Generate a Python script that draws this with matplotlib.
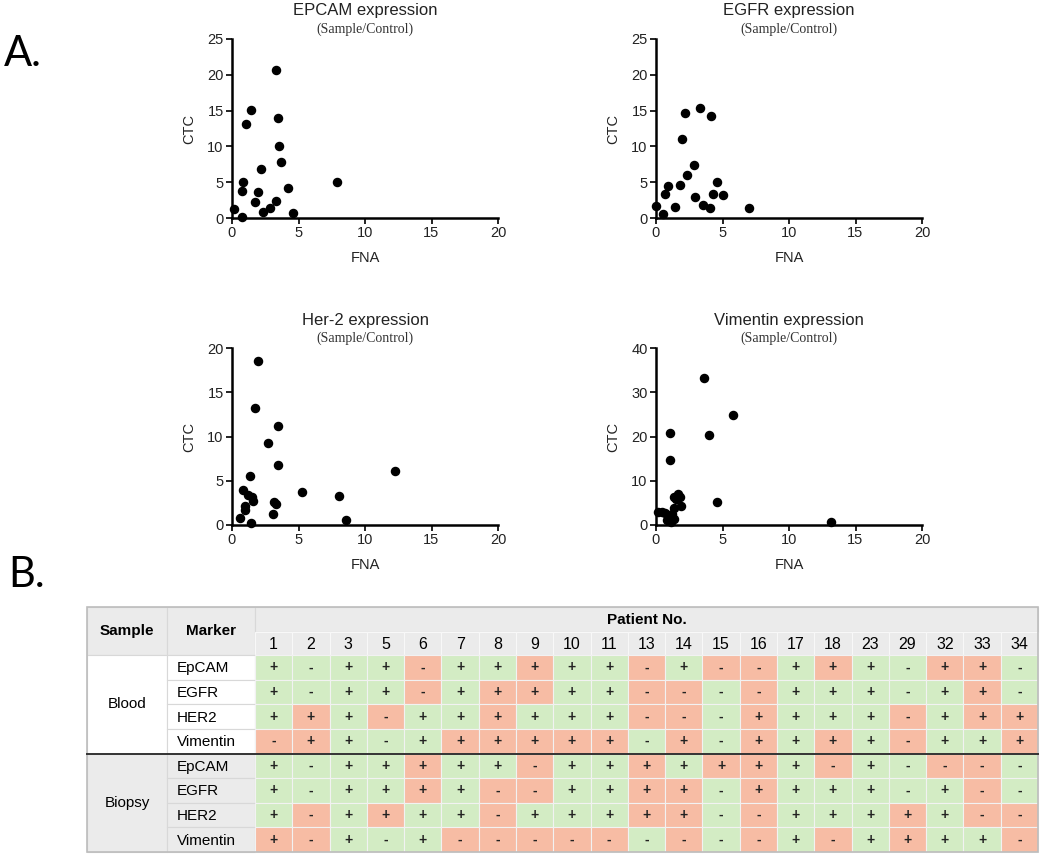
import numpy as np
import matplotlib as mpl
mpl.use('Agg')
import matplotlib.pyplot as plt
from matplotlib.patches import Rectangle

plt.rcParams['font.family'] = ['Liberation Sans', 'DejaVu Sans']

# ---- scatter data (FNA vs CTC, sample/control) ----
epcam_fna = [0.15, 0.75, 0.83, 0.75, 1.05, 1.43, 2.16, 1.98, 1.73, 2.33, 2.86,
             3.31, 3.48, 3.51, 3.71, 3.33, 4.24, 4.56, 7.9]
epcam_ctc = [1.3, 0.2, 5.07, 3.8, 13.1, 15.1, 6.8, 3.7, 2.3, 0.8, 1.35,
             20.7, 14.0, 10.05, 7.8, 2.4, 4.2, 0.65, 5.07]

egfr_fna = [0.03, 0.5, 0.64, 0.89, 1.4, 1.83, 1.93, 2.16, 2.31, 2.82, 2.92,
            3.28, 3.56, 4.04, 4.14, 4.29, 4.6, 5.03, 6.99]
egfr_ctc = [1.7, 0.6, 3.4, 4.4, 1.6, 4.6, 11.1, 14.6, 6.05, 7.45, 3.0,
            15.4, 1.8, 1.35, 14.3, 3.4, 5.0, 3.26, 1.4]

her2_fna = [0.6, 0.85, 0.95, 1.0, 1.2, 1.38, 1.4, 1.5, 1.6, 1.73, 1.98,
            2.7, 3.1, 3.13, 3.28, 3.43, 3.46, 5.24, 8.05, 8.6, 12.26]
her2_ctc = [0.83, 3.95, 2.14, 1.65, 3.38, 5.53, 0.26, 3.12, 2.7, 13.27, 18.5,
            9.32, 1.2, 2.56, 2.37, 11.2, 6.73, 3.76, 3.27, 0.56, 6.09]

vim_fna = [3.63, 5.79, 1.07, 3.99, 1.04, 4.55, 13.16, 0.18, 0.43, 0.69, 0.81,
           0.94, 1.12, 1.19, 1.32, 1.37, 1.32, 1.52, 1.68, 1.8, 1.88]
vim_ctc = [33.2, 24.96, 20.8, 20.45, 14.66, 5.1, 0.6, 3.0, 2.86, 2.6, 1.1,
           1.9, 0.75, 2.5, 3.76, 1.43, 6.24, 5.8, 7.0, 6.4, 4.29]

# ---- table data ----
patients = ['1', '2', '3', '5', '6', '7', '8', '9', '10', '11', '13', '14', '15',
            '16', '17', '18', '23', '29', '32', '33', '34']
markers = ['EpCAM', 'EGFR', 'HER2', 'Vimentin']
blood = ['+ - + + - + + + + + - + - - + + + - + + -'.split(),
         '+ - + + - + + + + + - - - - + + + - + + -'.split(),
         '+ + + - + + + + + + - - - + + + + - + + +'.split(),
         '- + + - + + + + + + - + - + + + + - + + +'.split()]
biopsy = ['+ - + + + + + - + + + + + + + - + - - - -'.split(),
          '+ - + + + + - - + + + + - + + + + - + - -'.split(),
          '+ - + + + + - + + + + + - - + + + + + - -'.split(),
          '+ - + - + - - - - - - - - - + - + + + + -'.split()]

green = '#d3ecc4'
red = '#f7bca4'
grey = '#ebebeb'

fig = plt.figure(figsize=(10.5, 8.58), dpi=100)
W, H = 1050.0, 858.0


def add_scatter(left, top, bottom, x, y, ymax, title):
    ax = fig.add_axes([left / W, 1 - bottom / H, 266 / W, (bottom - top) / H])
    ax.scatter(x, y, s=34, color='black', zorder=3, clip_on=False)
    ax.set_xlim(0, 20)
    ax.set_ylim(0, ymax)
    ax.set_xticks([0, 5, 10, 15, 20])
    ax.set_yticks(np.arange(0, ymax + 1, 10 if ymax == 40 else 5))
    for s in ['top', 'right']:
        ax.spines[s].set_visible(False)
    for s in ['left', 'bottom']:
        ax.spines[s].set_linewidth(1.8)
    ax.tick_params(width=1.4, length=4, labelsize=10.5, pad=2, colors='#222222')
    ax.set_xlabel('FNA', fontsize=10.5, labelpad=8, color='#222222')
    ax.set_ylabel('CTC', fontsize=10.5, labelpad=8, color='#222222')
    cx = left + 133
    fig.text(cx / W, 1 - (top - 28) / H, title, ha='center', va='center', fontsize=12,
             color='#222222')
    fig.text(cx / W, 1 - (top - 10) / H, '(Sample/Control)', ha='center', va='center',
             fontsize=10, family='Liberation Serif', color='#333333')
    return ax


add_scatter(232, 39, 218, epcam_fna, epcam_ctc, 25, 'EPCAM expression')
add_scatter(656, 39, 218, egfr_fna, egfr_ctc, 25, 'EGFR expression')
add_scatter(232, 348, 525, her2_fna, her2_ctc, 20, 'Her-2 expression')
add_scatter(656, 348, 525, vim_fna, vim_ctc, 40, 'Vimentin expression')

fig.text(4 / W, 1 - 54 / H, 'A.', fontsize=30, family='Lato', va='center')
fig.text(8 / W, 1 - 575 / H, 'B.', fontsize=30, family='Lato', va='center')

# ---- table (axes in pixel units) ----
tb = fig.add_axes([0, 0, 1, 1])
tb.set_xlim(0, W)
tb.set_ylim(H, 0)
tb.axis('off')

x0, xs, xm, x1 = 87, 167, 255, 1038
y0, yh1, yh2, y1 = 607, 632, 655, 852
cw = (x1 - xm) / len(patients)
rh = (y1 - yh2) / 8
edge = '#d8d8d8'


def cell(x, y, w, h, fc, ec=edge, lw=0.8):
    tb.add_patch(Rectangle((x, y), w, h, facecolor=fc, edgecolor=ec, linewidth=lw))


cell(x0, y0, xs - x0, yh2 - y0, grey)
cell(xs, y0, xm - xs, yh2 - y0, grey)
cell(xm, y0, x1 - xm, yh1 - y0, grey)
tb.text((x0 + xs) / 2, (y0 + yh2) / 2, 'Sample', ha='center', va='center',
        fontsize=11, fontweight='bold')
tb.text((xs + xm) / 2, (y0 + yh2) / 2, 'Marker', ha='center', va='center',
        fontsize=11, fontweight='bold')
tb.text((xm + x1) / 2, (y0 + yh1) / 2 + 1, 'Patient No.', ha='center', va='center',
        fontsize=11, fontweight='bold')
for j, p in enumerate(patients):
    cell(xm + j * cw, yh1, cw, yh2 - yh1, grey, ec='#f8f8f8')
    tb.text(xm + (j + 0.5) * cw, (yh1 + yh2) / 2 + 1, p, ha='center', va='center',
            fontsize=11.5)

for g, (name, rows, bg) in enumerate([('Blood', blood, 'white'),
                                      ('Biopsy', biopsy, grey)]):
    gy = yh2 + g * 4 * rh
    cell(x0, gy, xs - x0, 4 * rh, bg)
    tb.text((x0 + xs) / 2, gy + 2 * rh, name, ha='center', va='center', fontsize=11)
    for i, m in enumerate(markers):
        ry = gy + i * rh
        cell(xs, ry, xm - xs, rh, bg)
        tb.text(xs + 10, ry + rh / 2 + 1, m, ha='left', va='center', fontsize=11)
        for j in range(len(patients)):
            agree = blood[i][j] == biopsy[i][j]
            cell(xm + j * cw, ry, cw, rh, green if agree else red, ec='#f2f2f2')
            tb.text(xm + (j + 0.5) * cw, ry + rh / 2, rows[i][j], ha='center',
                    va='center', fontsize=10, fontweight='bold', color='#222222')

tb.add_patch(Rectangle((x0, y0), x1 - x0, y1 - y0, fill=False, edgecolor='#bdbdbd',
                       linewidth=1.2))
tb.plot([x0, x1], [yh2 + 4 * rh, yh2 + 4 * rh], color='#333333', linewidth=1.4)

fig.savefig('out.png', dpi=100)
